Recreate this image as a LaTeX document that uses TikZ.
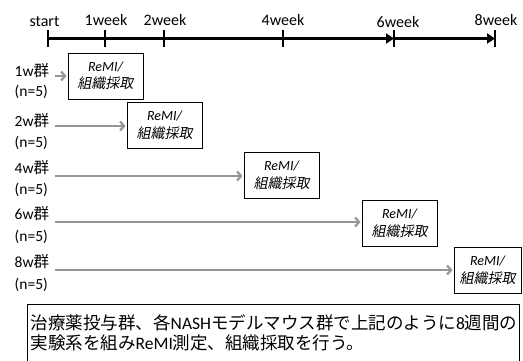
\documentclass[tikz,border=0pt]{standalone}
\usepackage{fontspec}
\setmainfont{Carlito}
\newfontfamily\jp{Noto Sans CJK JP}
\newfontfamily\jpit[FakeSlant=0.2]{Noto Sans CJK JP}
\usetikzlibrary{arrows.meta}
\newcommand\tightlines{\lineskiplimit -100pt\relax\lineskip 0pt\relax}
\tikzset{
  tlabel/.style={font=\fontsize{16}{18}\selectfont, inner sep=0pt},
  glabel/.style={font=\fontsize{15.5}{18}\selectfont, inner sep=0pt, anchor=west},
  remibox/.style={draw=black, line width=0.9pt, fill=white, minimum width=75pt, minimum height=46pt, align=center, inner sep=1pt,
    font=\fontsize{14}{17.5}\selectfont\itshape\tightlines},
  notebox/.style={draw=black, line width=0.9pt, fill=white, anchor=north west, minimum width=492pt, minimum height=70pt, inner sep=0pt},
  notetext/.style={anchor=base west, inner sep=0pt, font=\fontsize{17.5}{20}\selectfont},
  garrow/.style={draw={rgb,255:red,150;green,150;blue,150}, line width=2.2pt, -{Straight Barb[length=4pt,width=9pt]}},
  tline/.style={draw=black, line width=3pt},
  tick/.style={draw=black, line width=2pt},
  tarrow/.style={-{Triangle[length=8pt,width=10pt]}}
}
\begin{document}
\begin{tikzpicture}[x=1pt,y=-1pt]
\useasboundingbox (0,0) rectangle (523,360);
% timeline
\coordinate (t0) at (48,38.5);
\coordinate (t1) at (105,38.5);
\coordinate (t2) at (164,38.5);
\coordinate (t4) at (283,38.5);
\coordinate (t6) at (394,38.5);
\coordinate (t8) at (495,38.5);
\node[tlabel] (l0) at (44.5,21) {start};
\node[tlabel] (l1) at (106,20) {1week};
\node[tlabel] (l2) at (165,20) {2week};
\node[tlabel] (l4) at (283,20) {4week};
\node[tlabel] (l6) at (398,21.5) {6week};
\node[tlabel] (l8) at (496,19.5) {8week};
\draw[tline,tarrow] (t0) -- (t6);
\draw[tline,tarrow] (t6) -- (t8);
\foreach \t in {t0,t1,t2,t4,t6,t8}{
  \draw[tick] ([yshift=-8.5pt]\t) -- ([yshift=8.5pt]\t);
}
% groups
\node[glabel] (g1) at (14.5,71) {1w{\jp 群}};
\node[glabel] (n1) at (14.5,92) {(n=5)};
\node[glabel] (g2) at (14.5,121) {2w{\jp 群}};
\node[glabel] (n2) at (14.5,143) {(n=5)};
\node[glabel] (g4) at (14.5,168) {4w{\jp 群}};
\node[glabel] (n4) at (14.5,190) {(n=5)};
\node[glabel] (g6) at (14.5,214) {6w{\jp 群}};
\node[glabel] (n6) at (14.5,237) {(n=5)};
\node[glabel] (g8) at (14.5,262) {8w{\jp 群}};
\node[glabel] (n8) at (14.5,285) {(n=5)};
% boxes
\node[remibox] (b1) at (105.5,76) {ReMI/\\{\jpit 組織採取}};
\node[remibox] (b2) at (164.5,125.5) {ReMI/\\{\jpit 組織採取}};
\node[remibox] (b3) at (281.5,175.5) {ReMI/\\{\jpit 組織採取}};
\node[remibox] (b4) at (399.5,223.5) {ReMI/\\{\jpit 組織採取}};
\node[remibox, minimum width=67pt] (b5) at (487.5,270.5) {ReMI/\\{\jpit 組織採取}};
% arrows
\coordinate (s1) at (55,76);
\coordinate (s2) at (55,126);
\coordinate (s4) at (55,176);
\coordinate (s6) at (55,222);
\coordinate (s8) at (55,270);
\draw[garrow] (s1) -- ([xshift=-1pt]s1 -| b1.west);
\draw[garrow] (s2) -- ([xshift=-1pt]s2 -| b2.west);
\draw[garrow] (s4) -- ([xshift=-1pt]s4 -| b3.west);
\draw[garrow] (s6) -- ([xshift=-1pt]s6 -| b4.west);
\draw[garrow] (s8) -- ([xshift=-1pt]s8 -| b5.west);
% bottom note
\node[notebox] (note) at (27,304) {};
\node[notetext] (line1) at (30.5,329) {{\jp 治療薬投与群、各}NASH{\jp モデルマウス群で上記のように}8{\jp 週間の}};
\node[notetext] (line2) at (30.5,349) {{\jp 実験系を組み}ReMI{\jp 測定、組織採取を行う。}};
\end{tikzpicture}
\end{document}
